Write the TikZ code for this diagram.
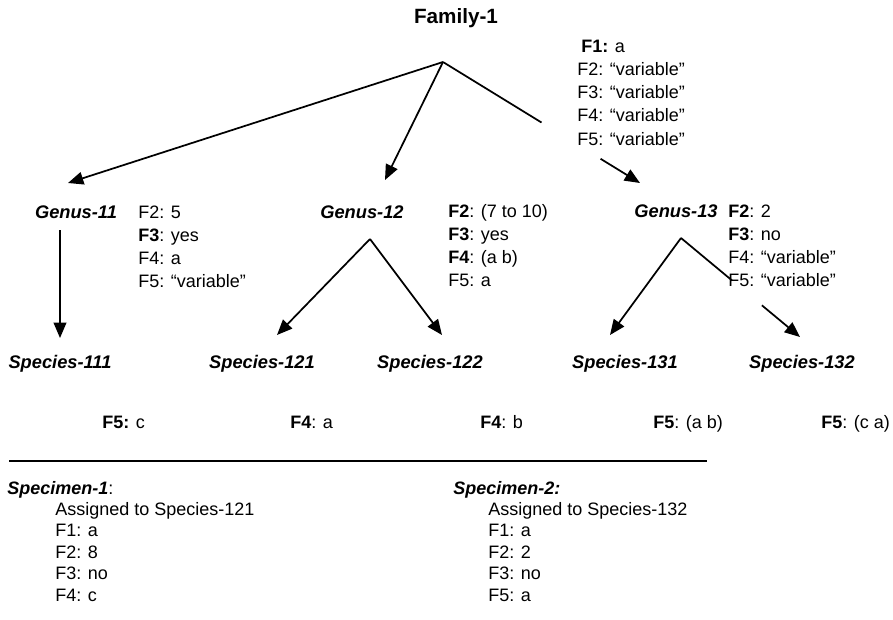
\documentclass[tikz,border=0pt]{standalone}
\usepackage{fontspec}
\setmainfont{Liberation Sans}
\usetikzlibrary{arrows.meta,calc}
\tikzset{
  txt/.style={inner sep=0pt, anchor=base west, font=\fontsize{13.5}{16}\selectfont},
  ctxt/.style={inner sep=0pt, anchor=base, font=\fontsize{13.5}{16}\selectfont},
  taxon/.style={ctxt, font=\fontsize{13.7}{16}\selectfont\bfseries\itshape},
  edge/.style={line width=1.3pt},
  arr/.style={edge, -{Triangle[length=11.5pt,width=9.5pt]}},
}
\begin{document}
\begin{tikzpicture}[x=0.75pt,y=-0.75pt]
\useasboundingbox (0,0) rectangle (893,619);

% ---- taxon labels
\node[ctxt, font=\fontsize{15.5}{18}\selectfont\bfseries] (fam) at (456,23) {Family-1};
\node[taxon] (g11) at (76,218) {Genus-11};
\node[taxon] (g12) at (362,218) {Genus-12};
\node[taxon] (g13) at (676,217) {Genus-13};
\node[taxon] (s111) at (60,368) {Species-111};
\node[taxon] (s121) at (262,368) {Species-121};
\node[taxon] (s122) at (430,368) {Species-122};
\node[taxon] (s131) at (625,368) {Species-131};
\node[taxon] (s132) at (802,368) {Species-132};

% ---- connector end points
\coordinate (famA) at (443,62);
\coordinate (g11T) at (68,183);
\coordinate (g12T) at (385,180);
\coordinate (g13T) at (640,183);
\coordinate (g11A) at (60,230);
\coordinate (s111T) at (60,338);
\coordinate (g12A) at (370,239);
\coordinate (s121T) at (277,335);
\coordinate (s122T) at (442,335);
\coordinate (g13A) at (681,238);
\coordinate (s131T) at (610,335);
\coordinate (s132T) at (800,337);

% ---- connectors
\draw[arr] (famA) -- (g11T);
\draw[arr] (famA) -- (g12T);
\draw[edge] (famA) -- ($(famA)!0.50!(g13T)$);
\draw[arr] ($(famA)!0.80!(g13T)$) -- (g13T);
\draw[arr] (g11A) -- (s111T);
\draw[arr] (g12A) -- (s121T);
\draw[arr] (g12A) -- (s122T);
\draw[arr] (g13A) -- (s131T);
\draw[edge] (g13A) -- ($(g13A)!0.43!(s132T)$);
\draw[arr] ($(g13A)!0.68!(s132T)$) -- (s132T);

% ---- Family-1 features
\node[txt] (f1) at (581,52) {\textbf{F1:} a};
\node[txt] (f2) at (577,75.3) {F2: “variable”};
\node[txt] (f3) at (577,98.6) {F3: “variable”};
\node[txt] (f4) at (577,121.9) {F4: “variable”};
\node[txt] (f5) at (577,145.2) {F5: “variable”};

% ---- Genus-11 features
\node[txt] (a2) at (138,218) {F2: 5};
\node[txt] (a3) at (138,241.3) {\textbf{F3}: yes};
\node[txt] (a4) at (138,264.6) {F4: a};
\node[txt] (a5) at (138,287.9) {F5: “variable”};

% ---- Genus-12 features
\node[txt] (b2) at (448,217) {\textbf{F2}: (7 to 10)};
\node[txt] (b3) at (448,240.3) {\textbf{F3}: yes};
\node[txt] (b4) at (448,263.6) {\textbf{F4}: (a b)};
\node[txt] (b5) at (448,286.9) {F5: a};

% ---- Genus-13 features
\node[txt] (c2) at (728,217) {\textbf{F2}: 2};
\node[txt] (c3) at (728,240.3) {\textbf{F3}: no};
\node[txt] (c4) at (728,263.6) {F4: “variable”};
\node[txt] (c5) at (728,286.9) {F5: “variable”};

% ---- species features
\node[txt] (d1) at (102,428) {\textbf{F5:} c};
\node[txt] (d2) at (290,428) {\textbf{F4}: a};
\node[txt] (d3) at (480,428) {\textbf{F4}: b};
\node[txt] (d4) at (653,428) {\textbf{F5}: (a b)};
\node[txt] (d5) at (821,428) {\textbf{F5}: (c a)};

% ---- separator
\coordinate (sepL) at (9,461);
\coordinate (sepR) at (707,461);
\draw[line width=1.2pt] (sepL) -- (sepR);

% ---- Specimen-1
\node[txt] (sp1) at (7,494) {\textbf{\itshape Specimen-1}:};
\node[txt] (sp1a) at (55,515) {Assigned to Species-121};
\node[txt] (sp1b) at (55,536.5) {F1: a};
\node[txt] (sp1c) at (55,558) {F2: 8};
\node[txt] (sp1d) at (55,579.5) {F3: no};
\node[txt] (sp1e) at (55,601) {F4: c};

% ---- Specimen-2
\node[txt] (sp2) at (453,494) {\textbf{\itshape Specimen-2:}};
\node[txt] (sp2a) at (488,515) {Assigned to Species-132};
\node[txt] (sp2b) at (488,536.5) {F1: a};
\node[txt] (sp2c) at (488,558) {F2: 2};
\node[txt] (sp2d) at (488,579.5) {F3: no};
\node[txt] (sp2e) at (488,601) {F5: a};
\end{tikzpicture}
\end{document}
